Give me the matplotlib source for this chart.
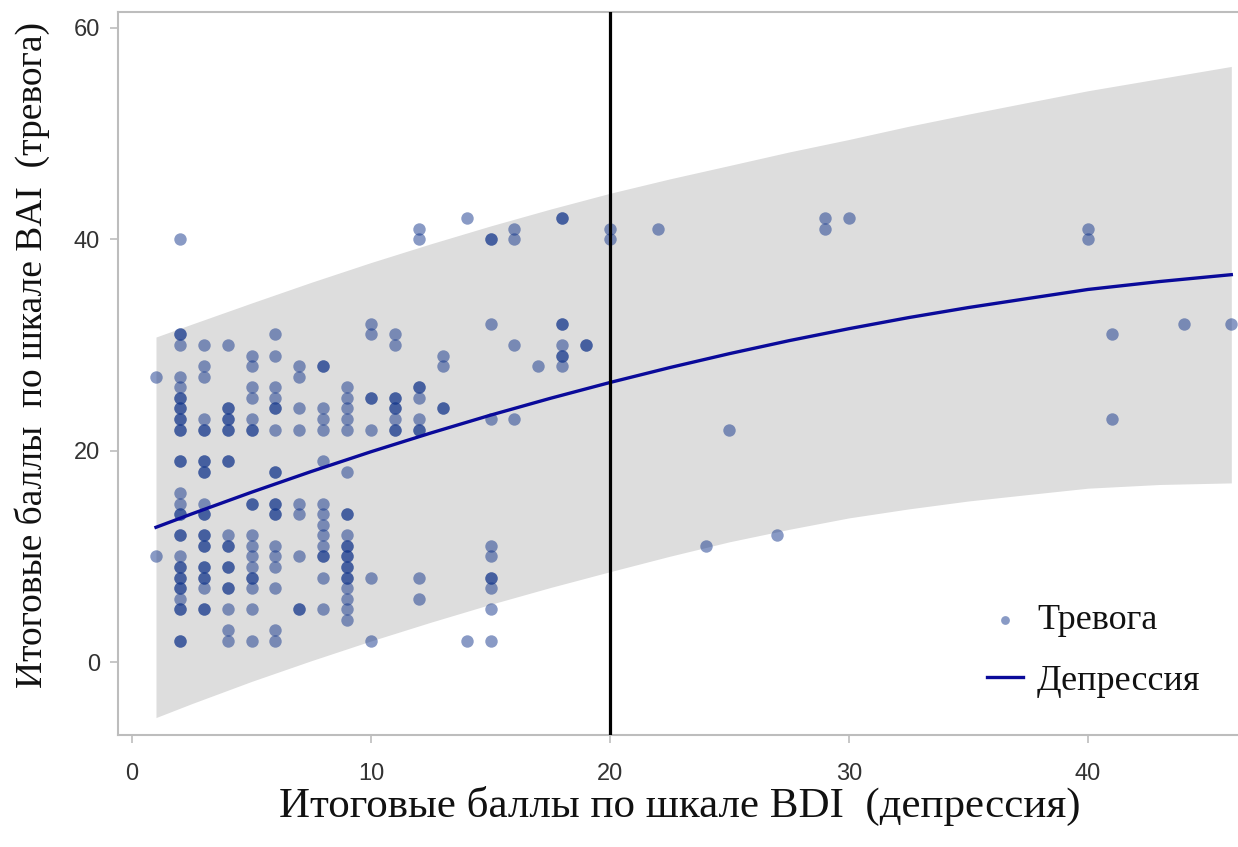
import matplotlib
matplotlib.use('Agg')
import matplotlib.pyplot as plt

# ---------------- data ----------------
# BDI score (x) -> list of BAI scores (y); repeated values = overlapping dots
bdi_columns = [1, 2, 3, 4, 5, 6, 7, 8, 9, 10, 11, 12, 13, 14, 15, 16, 17, 18, 19,
               20, 22, 24, 25, 27, 29, 30, 40, 41, 44, 46]
bai_columns = [
    [27, 10],
    [40, 31, 31, 30, 27, 26, 25, 25, 24, 24, 23, 23, 22, 22, 19, 19, 16, 15, 14, 14,
     12, 12, 10, 9, 9, 8, 8, 7, 7, 6, 5, 5, 2, 2],
    [30, 28, 27, 23, 22, 22, 19, 19, 18, 18, 15, 14, 14, 12, 12, 11, 11, 9, 9, 8, 8, 7, 5, 5],
    [30, 24, 24, 23, 23, 22, 22, 19, 19, 12, 11, 11, 9, 9, 7, 7, 5, 3, 2],
    [29, 28, 26, 25, 23, 22, 22, 15, 15, 12, 11, 10, 9, 8, 8, 7, 5, 2],
    [31, 29, 26, 25, 24, 24, 22, 18, 18, 15, 15, 14, 14, 11, 10, 9, 7, 3, 2],
    [28, 27, 24, 22, 15, 14, 10, 5, 5],
    [28, 28, 24, 23, 22, 19, 15, 14, 13, 12, 11, 10, 10, 8, 5],
    [26, 25, 24, 23, 22, 18, 14, 14, 12, 11, 11, 10, 10, 9, 9, 8, 8, 7, 6, 5, 4],
    [32, 31, 25, 25, 22, 8, 2],
    [31, 30, 25, 25, 24, 24, 23, 22, 22],
    [41, 40, 26, 26, 25, 23, 22, 22, 8, 6],
    [29, 28, 24, 24],
    [42, 2],
    [40, 40, 32, 23, 11, 10, 8, 8, 7, 5, 2],
    [41, 40, 30, 23],
    [28],
    [42, 42, 32, 32, 30, 29, 29, 28],
    [30, 30],
    [41, 40],
    [41],
    [11],
    [22],
    [12],
    [42, 41],
    [42],
    [41, 40],
    [31, 23],
    [32],
    [32],
]

bdi = [x for x, ys in zip(bdi_columns, bai_columns) for _ in ys]
bai = [y for ys in bai_columns for y in ys]

# fitted curve and prediction band
curve_x = [1, 2.5, 5, 7.5, 10, 12.5, 15, 17.5, 20, 22.5, 25, 27.5, 30, 32.5, 35,
           37.5, 40, 43, 46]
curve_y = [12.75, 14.02, 16.07, 18.03, 19.90, 21.67, 23.36, 24.95, 26.45, 27.86,
           29.18, 30.41, 31.54, 32.59, 33.54, 34.40, 35.25, 36.0, 36.65]
band_half = [18.0, 17.95, 17.9, 17.9, 17.9, 17.9, 17.9, 17.9, 17.9, 17.85,
             17.8, 17.85, 17.9, 18.1, 18.3, 18.55, 18.8, 19.2, 19.7]
band_lo = [c - h for c, h in zip(curve_y, band_half)]
band_hi = [c + h for c, h in zip(curve_y, band_half)]

cutoff_bdi = 20
x_ticks = [0, 10, 20, 30, 40]
y_ticks = [0, 20, 40, 60]

# ---------------- drawing ----------------
W, H = 1238, 847
fig = plt.figure(figsize=(W / 100, H / 100), dpi=100)
ax = fig.add_axes([118 / W, 1 - 735 / H, 1 - 118 / W, (735 - 12) / H])

dot_rgb = (20 / 255, 55 / 255, 140 / 255)
line_col = '#0a0a9a'

ax.fill_between(curve_x, band_lo, band_hi, color='#dddddd', lw=0, zorder=1)
ax.scatter(bdi, bai, s=80, color=dot_rgb, alpha=0.5, linewidths=0, zorder=2)
ax.plot(curve_x, curve_y, color=line_col, lw=2.4, zorder=3)
ax.axvline(cutoff_bdi, color='black', lw=2.3, zorder=4)

ax.set_xlim(-0.59, 46.28)
ax.set_ylim(-6.9, 61.5)
ax.set_xticks(x_ticks)
ax.set_yticks(y_ticks)

for side in ['top', 'left', 'bottom']:
    ax.spines[side].set_color('#bdbdbd')
    ax.spines[side].set_linewidth(1.5)
ax.spines['right'].set_visible(False)
ax.tick_params(axis='both', colors='#bdbdbd', length=6, width=1.2,
               labelcolor='#333333', labelsize=17)
ax.tick_params(axis='x', pad=14)
ax.tick_params(axis='y', pad=7)
for lab in ax.get_xticklabels() + ax.get_yticklabels():
    lab.set_family('Liberation Sans')

serif = ['Liberation Serif', 'DejaVu Serif']
fig.text(680 / W, 1 - 806 / H, 'Итоговые баллы по шкале BDI  (депрессия)',
         ha='center', va='center', fontsize=31, family=serif, color='#111111')
fig.text(32 / W, 1 - 355 / H, 'Итоговые баллы  по шкале BAI  (тревога)',
         ha='center', va='center', rotation=90, fontsize=27, family=serif,
         color='#111111')

h1 = ax.scatter([], [], s=40, color=dot_rgb, alpha=0.5, linewidths=0)
h2, = ax.plot([], [], color=line_col, lw=2.4)
leg = ax.legend([h1, h2], ['Тревога', 'Депрессия'], loc='lower right',
                bbox_to_anchor=(0.9666, 0.051), frameon=False, borderpad=0,
                borderaxespad=0,
                prop={'family': serif, 'size': 26}, labelspacing=0.77,
                handlelength=1.0, handletextpad=0.4)
for t in leg.get_texts():
    t.set_color('#111111')

fig.savefig('out.png', dpi=100)
